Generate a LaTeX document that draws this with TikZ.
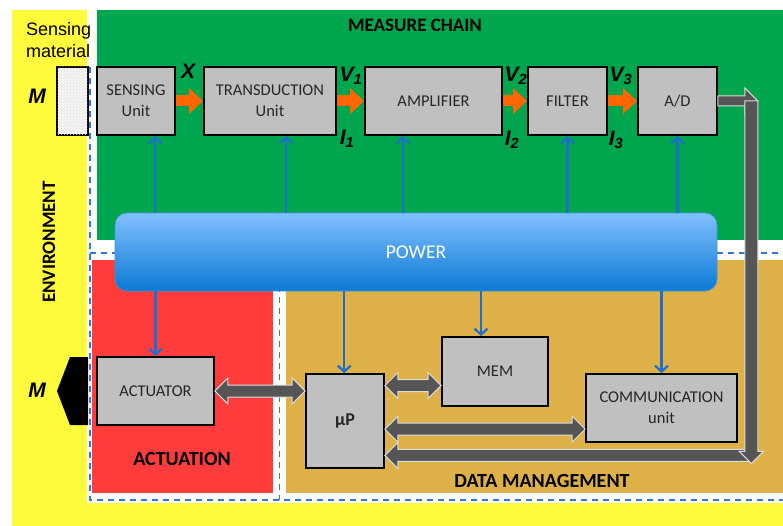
\documentclass[tikz,border=0pt]{standalone}
\usepackage{fontspec}
\setmainfont{Carlito}
\newfontfamily\arialf{Liberation Sans}
\usetikzlibrary{arrows.meta,calc,patterns}
\definecolor{envyellow}{RGB}{255,250,60}
\definecolor{chaingreen}{RGB}{0,166,77}
\definecolor{actred}{RGB}{255,60,60}
\definecolor{dataochre}{RGB}{222,176,72}
\definecolor{boxgray}{RGB}{192,192,192}
\definecolor{pblue}{RGB}{30,110,205}
\definecolor{sigorange}{RGB}{255,102,0}
\definecolor{busgray}{RGB}{85,85,85}
\definecolor{busedge}{RGB}{220,220,220}
\definecolor{dashblue}{RGB}{50,120,210}
\definecolor{powtop}{RGB}{130,192,255}
\definecolor{powbot}{RGB}{10,122,212}
\begin{document}
\begin{tikzpicture}[x=1pt,y=-1pt,
  blk/.style={draw=black, line width=1.8pt, fill=boxgray, inner sep=1pt, align=center,
    font=\fontsize{16.5}{21}\selectfont, text=black!85},
  ttl/.style={font=\bfseries\fontsize{20}{22}\selectfont, text=black, inner sep=0pt},
  lab/.style={font=\arialf\bfseries\itshape\fontsize{21}{21}\selectfont, text=black, inner sep=0pt},
  dsh/.style={draw=dashblue, line width=1.5pt, dash pattern=on 6pt off 5pt},
  pw/.style={draw=pblue, line width=2.2pt, -{Straight Barb[length=6pt,width=13pt]}},
  sig/.style={draw=sigorange, line width=11pt, -{Triangle[length=14pt,width=25pt]}},
  bus/.style={fill=busgray, draw=busedge, line width=1pt, line join=miter}]
\useasboundingbox (0,0) rectangle (783,526);
% backgrounds
\fill[white] (0,0) rectangle (783,526);
\fill[envyellow] (12,10) rectangle (783,526);
\fill[white] (87,10) rectangle (783,503);
\fill[chaingreen] (97,10) rectangle (783,240);
\fill[actred] (92,260) rectangle (273,493);
\fill[dataochre] (286,260) rectangle (783,493);
\draw[dsh] (90,67) -- (90,500) -- (783,500);
\draw[dsh] (90,253) -- (783,253);
\draw[dsh] (279.5,253) -- (279.5,500);
% region titles
\node[ttl, font=\bfseries\fontsize{19}{21}\selectfont] (mc) at (415,25) {MEASURE CHAIN};
\node[ttl, rotate=90, font=\bfseries\fontsize{19}{21}\selectfont] (env) at (49,242) {ENVIRONMENT};
\node[ttl] (actn) at (182,459) {ACTUATION};
\node[ttl] (dm) at (542,481) {DATA MANAGEMENT};
% environment labels
\node[anchor=base west, inner sep=0pt, font=\arialf\fontsize{18}{20}\selectfont] (smt1) at (26,36) {Sensing};
\node[anchor=base west, inner sep=0pt, font=\arialf\fontsize{18}{20}\selectfont] (smt2) at (26,58) {material};
\node[lab] (m1) at (37,96) {M};
\node[lab] (m2) at (37,390) {M};
\fill[black] (88,357) -- (70,357) -- (57,391) -- (70,425) -- (88,425) -- cycle;
% boxes
\node[blk, minimum width=31pt, minimum height=68pt, fill=gray!8,
  postaction={pattern=crosshatch dots, pattern color=gray!28}] (smat) at (72.5,101) {};
\node[blk, minimum width=78pt, minimum height=68pt] (sens) at (136,101) {SENSING\\Unit};
\node[blk, minimum width=132pt, minimum height=68pt] (trans) at (270,101) {TRANSDUCTION\\Unit};
\node[blk, minimum width=137pt, minimum height=68pt] (amp) at (433.5,101) {AMPLIFIER};
\node[blk, minimum width=79pt, minimum height=68pt] (filt) at (567.5,101) {FILTER};
\node[blk, minimum width=79pt, minimum height=68pt] (ad) at (677.5,101) {A/D};
\node[blk, minimum width=117pt, minimum height=68pt] (act) at (155.5,391) {ACTUATOR};
\node[blk, minimum width=78pt, minimum height=94pt, font=\bfseries\fontsize{18}{20}\selectfont] (up) at (345,421) {µP};
\node[blk, minimum width=106pt, minimum height=69pt] (mem) at (495,371.5) {MEM};
\node[blk, minimum width=151pt, minimum height=68pt] (comm) at (661.5,408) {COMMUNICATION\\unit};
% power bar
\node[minimum width=602pt, minimum height=78pt, rounded corners=12pt, draw=powbot!80!white,
  line width=0.6pt, top color=powtop, bottom color=powbot, text=white,
  font=\fontsize{19.5}{21}\selectfont] (power) at (416,252) {POWER};
% power arrows
\coordinate (t1) at ($(sens.south west)!0.74!(sens.south east)$);
\coordinate (t2) at ($(trans.south west)!0.62!(trans.south east)$);
\coordinate (t3) at ($(amp.south west)!0.28!(amp.south east)$);
\coordinate (t4) at ($(filt.south west)!0.5!(filt.south east)$);
\coordinate (t5) at ($(ad.south west)!0.5!(ad.south east)$);
\foreach \c in {t1,t2,t3,t4,t5} \draw[pw] (power.north -| \c) -- (\c);
\coordinate (b1) at ($(act.north west)!0.5!(act.north east)$);
\coordinate (b2) at ($(up.north west)!0.49!(up.north east)$);
\coordinate (b3) at ($(mem.north west)!0.37!(mem.north east)$);
\coordinate (b4) at ($(comm.north west)!0.5!(comm.north east)$);
\foreach \c in {b1,b2,b3,b4} \draw[pw] (power.south -| \c) -- (\c);
% signal arrows
\draw[sig] (sens.east) -- (trans.west);
\draw[sig] (trans.east) -- (amp.west);
\draw[sig] (amp.east) -- (filt.west);
\draw[sig] (filt.east) -- (ad.west);
\node[lab] (lx) at (188,71) {X};
\node[lab] (lv1) at (351,76) {V\textsubscript{1}};
\node[lab] (li1) at (347,139) {I\textsubscript{1}};
\node[lab] (lv2) at (516,76) {V\textsubscript{2}};
\node[lab] (li2) at (512,140) {I\textsubscript{2}};
\node[lab] (lv3) at (621,76) {V\textsubscript{3}};
\node[lab] (li3) at (616,140) {I\textsubscript{3}};
% bus arrows
\newcommand\hbus[2]{\filldraw[bus] (#1) -- ++(13,-13) -- ++(0,7) -- ($(#2)+(-13,-6)$) -- ++(0,-7) -- (#2) -- ++(-13,13) -- ++(0,-7) -- ($(#1)+(13,6)$) -- ++(0,7) -- cycle;}
\coordinate (a1) at (act.east);
\coordinate (a2) at (act.east -| up.west);
\hbus{a1}{a2}
\coordinate (m1s) at ($(up.north east)!0.13!(up.south east)$);
\coordinate (m1e) at (m1s -| mem.west);
\hbus{m1s}{m1e}
\coordinate (c1s) at ($(up.north east)!0.585!(up.south east)$);
\coordinate (c1e) at (c1s -| comm.west);
\hbus{c1s}{c1e}
% data bus from A/D back to uP
\coordinate (bc) at ($(ad.east)+(33.5,0)$);
\coordinate (upb) at ($(up.north east)!0.86!(up.south east)$);
\coordinate (bb) at (bc |- upb);
\filldraw[bus] ($(ad.east)+(0,-5)$) -- ($(bc)+(-6.5,-5)$) -- ($(bc)+(-6.5,-13)$) -- ($(bc)+(6.5,0)$)
  -- ($(bc)+(-6.5,13)$) -- ($(bc)+(-6.5,5)$) -- ($(ad.east)+(0,5)$) -- cycle;
\filldraw[bus] ($(bb)+(0,-6)$) -- ($(upb)+(13,-6)$) -- ($(upb)+(13,-13)$) -- (upb)
  -- ($(upb)+(13,13)$) -- ($(upb)+(13,6)$) -- ($(bb)+(0,6)$) -- cycle;
\filldraw[bus] ($(bc)+(-6.5,0)$) -- ($(bc)+(6.5,0)$) -- ($(bb)+(6.5,-4)$) -- ($(bb)+(12,-4)$)
  -- ($(bb)+(0,8)$) -- ($(bb)+(-12,-4)$) -- ($(bb)+(-6.5,-4)$) -- cycle;
\end{tikzpicture}
\end{document}
